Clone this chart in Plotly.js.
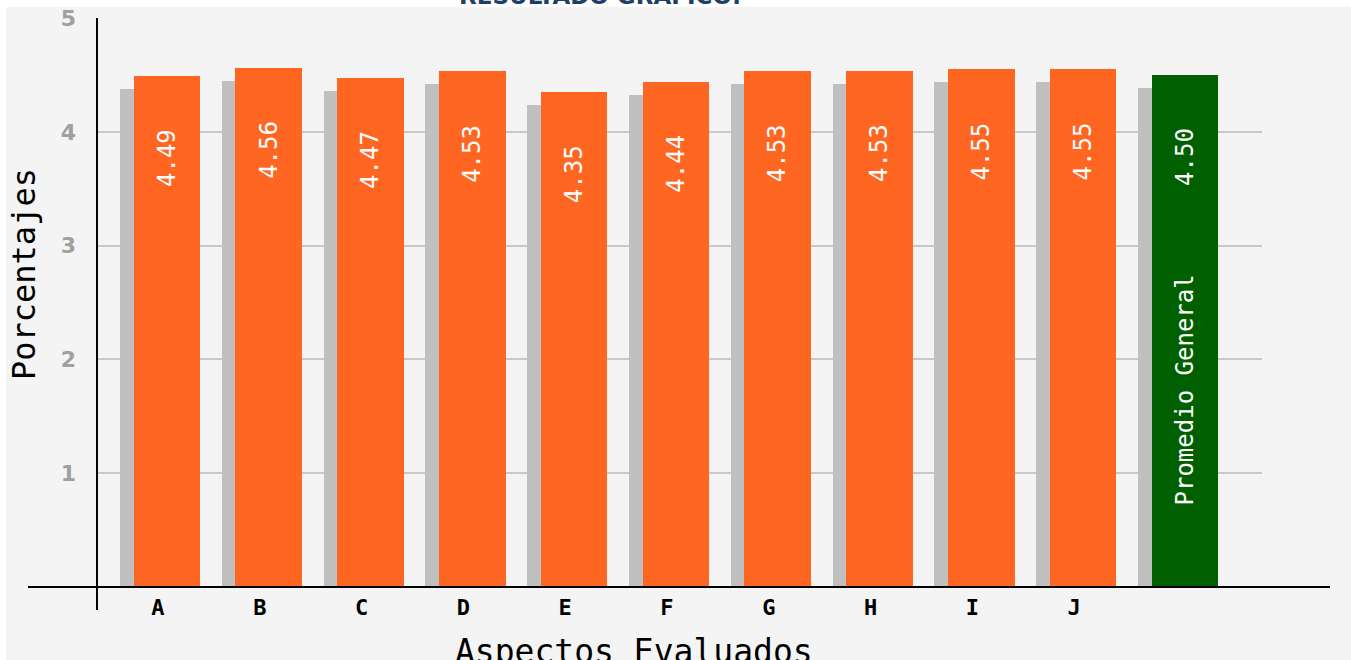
<!DOCTYPE html>
<html>
<head>
<meta charset="utf-8">
<script src="https://cdn.plot.ly/plotly-3.0.1.min.js"></script>
<style>
  html, body { margin: 0; padding: 0; background: #ffffff; }
  #chart { width: 1351px; height: 660px; }
</style>
</head>
<body>
<div id="chart"></div>
<script>
// ---- data ----
const categories = ['A', 'B', 'C', 'D', 'E', 'F', 'G', 'H', 'I', 'J', 'Promedio General'];
const values = [4.49, 4.56, 4.47, 4.53, 4.35, 4.44, 4.53, 4.53, 4.55, 4.55, 4.50];
const tickLabels = ['A', 'B', 'C', 'D', 'E', 'F', 'G', 'H', 'I', 'J', ''];
const valueLabels = ['4.49', '4.56', '4.47', '4.53', '4.35', '4.44', '4.53', '4.53', '4.55', '4.55', '4.50'];
const averageLabel = 'Promedio General';
const chartTitle = 'RESULTADO GRAFICO:';
const xTitle = 'Aspectos Evaluados';
const yTitle = 'Porcentajes';

// ---- styles ----
const ORANGE = '#ff6622';
const GREEN = '#006000';
const SHADOW = '#c0c0c0';
const barColors = categories.map((c, i) => i === categories.length - 1 ? GREEN : ORANGE);
const monoFont = '"DejaVu Sans Mono", "Liberation Mono", monospace';

const shadowTrace = {
  type: 'bar', x: categories, y: values,
  xaxis: 'x', yaxis: 'y',
  marker: { color: SHADOW },
  offset: -0.374, width: 0.655,
  hoverinfo: 'skip', showlegend: false
};
const mainTrace = {
  type: 'bar', x: categories, y: values,
  xaxis: 'x', yaxis: 'y2',
  marker: { color: barColors },
  offset: -0.24, width: 0.655,
  hoverinfo: 'skip', showlegend: false
};

const annotations = [];
categories.forEach((c, i) => {
  annotations.push({
    x: c, y: values[i], xref: 'x', yref: 'y2',
    text: valueLabels[i], showarrow: false, textangle: -90,
    xanchor: 'center', yanchor: 'top', xshift: 9, yshift: -51,
    font: { family: monoFont, size: 24, color: '#ffffff' }
  });
});
annotations.push({
  x: categories[categories.length - 1], y: 0, xref: 'x', yref: 'y2',
  text: averageLabel, showarrow: false, textangle: -90,
  xanchor: 'center', yanchor: 'bottom', xshift: 9, yshift: 80,
  font: { family: monoFont, size: 24, color: '#ffffff' }
});
annotations.push({
  x: (634 - 97) / 1165, y: (587 - 651) / 569, xref: 'paper', yref: 'paper',
  text: xTitle, showarrow: false, xanchor: 'center', yanchor: 'middle',
  font: { family: monoFont, size: 33, color: '#000000' }
});
annotations.push({
  x: (24 - 97) / 1165, y: (587 - 274) / 569, xref: 'paper', yref: 'paper',
  text: yTitle, showarrow: false, textangle: -90, xanchor: 'center', yanchor: 'middle',
  font: { family: monoFont, size: 32, color: '#000000' }
});
annotations.push({
  x: (600 - 97) / 1165, y: (587 - 11) / 569, xref: 'paper', yref: 'paper',
  text: '<b>' + chartTitle + '</b>', showarrow: false, xanchor: 'center', yanchor: 'bottom',
  font: { family: '"DejaVu Sans", Verdana, sans-serif', size: 23, color: '#1f3f66' }
});

const layout = {
  width: 1351, height: 660, autosize: false,
  margin: { l: 97, r: 89, t: 18, b: 73, pad: 0 },
  paper_bgcolor: '#ffffff',
  plot_bgcolor: 'rgba(0,0,0,0)',
  showlegend: false,
  bargap: 0,
  xaxis: {
    type: 'category', range: [-0.599, 10.845],
    tickvals: categories, ticktext: tickLabels,
    showgrid: false, zeroline: false, showline: false, ticks: '',
    ticklabelstandoff: 5,
    tickfont: { family: monoFont, size: 22, color: '#000000', weight: 'bold' }
  },
  yaxis: {
    range: [0.114, 5.114], visible: false, showgrid: false, zeroline: false
  },
  yaxis2: {
    overlaying: 'y', side: 'left', range: [0, 5],
    tickvals: [1, 2, 3, 4, 5],
    showgrid: true, gridcolor: '#c8c8c8', gridwidth: 2,
    zeroline: false, showline: false, ticks: '',
    ticklabelstandoff: 20,
    tickfont: { family: '"DejaVu Sans", Verdana, sans-serif', size: 22, color: '#a0a0a0', weight: 'bold' }
  },
  shapes: [
    { type: 'rect', xref: 'paper', yref: 'paper', layer: 'below',
      x0: (6 - 97) / 1165, x1: 1.2, y0: -0.3, y1: (587 - 7) / 569,
      fillcolor: '#f4f4f4', line: { width: 0 } },
    { type: 'line', xref: 'paper', yref: 'paper', layer: 'above',
      x0: (28 - 97) / 1165, x1: (1330 - 97) / 1165, y0: 0, y1: 0,
      line: { color: '#000000', width: 2 } },
    { type: 'line', xref: 'paper', yref: 'paper', layer: 'above',
      x0: 0, x1: 0, y0: 1, y1: (587 - 610) / 569,
      line: { color: '#000000', width: 2 } }
  ],
  annotations: annotations
};

Plotly.newPlot('chart', [shadowTrace, mainTrace], layout, { displayModeBar: false, staticPlot: true });
</script>
</body>
</html>
